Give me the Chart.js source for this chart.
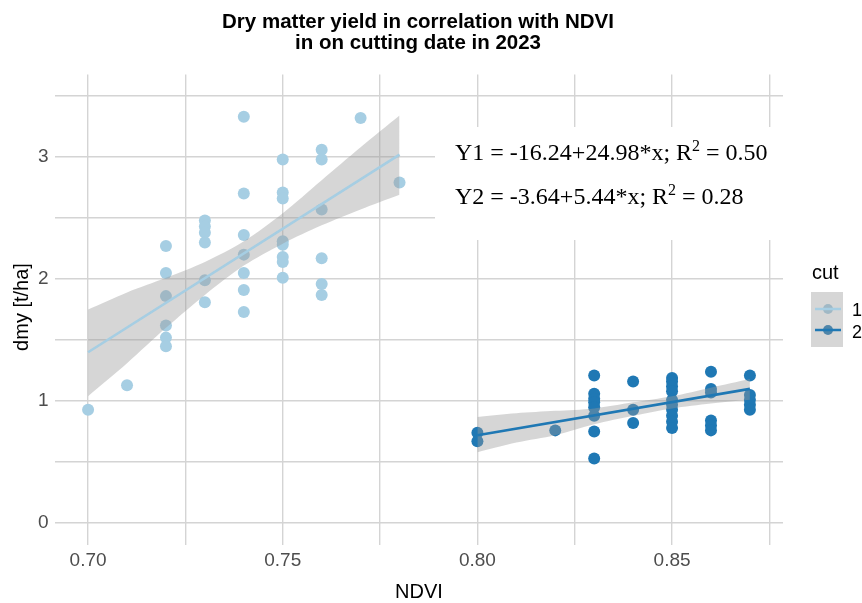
<!DOCTYPE html>
<html>
<head>
<meta charset="utf-8">
<script src="https://cdn.jsdelivr.net/npm/chart.js@4.4.1/dist/chart.umd.min.js"></script>
<style>
  html, body { margin: 0; padding: 0; background: #fff; }
</style>
</head>
<body>
<canvas id="chart" width="862" height="603"></canvas>
<script>
// cut 1 measurements
var ndvi1 = [0.70, 0.71,
  0.72, 0.72, 0.72, 0.72, 0.72, 0.72,
  0.73, 0.73, 0.73, 0.73, 0.73, 0.73,
  0.74, 0.74, 0.74, 0.74, 0.74, 0.74, 0.74,
  0.75, 0.75, 0.75, 0.75, 0.75, 0.75, 0.75, 0.75,
  0.76, 0.76, 0.76, 0.76, 0.76, 0.76,
  0.77, 0.78];
var dmy1 = [0.93, 1.13,
  2.27, 2.05, 1.86, 1.62, 1.52, 1.45,
  2.48, 2.43, 2.38, 2.30, 1.99, 1.81,
  3.33, 2.70, 2.36, 2.20, 2.05, 1.91, 1.73,
  2.98, 2.71, 2.66, 2.31, 2.28, 2.18, 2.14, 2.01,
  3.06, 2.98, 2.57, 2.17, 1.96, 1.87,
  3.32, 2.79];

// cut 2 measurements
var ndvi2 = [0.80, 0.80, 0.82,
  0.83, 0.83, 0.83, 0.83, 0.83, 0.83, 0.83, 0.83,
  0.84, 0.84, 0.84,
  0.85, 0.85, 0.85, 0.85, 0.85, 0.85, 0.85, 0.85, 0.85, 0.85,
  0.86, 0.86, 0.86, 0.86, 0.86, 0.86,
  0.87, 0.87, 0.87, 0.87, 0.87];
var dmy2 = [0.74, 0.67, 0.76,
  1.21, 1.06, 1.02, 0.99, 0.95, 0.88, 0.75, 0.53,
  1.16, 0.93, 0.82,
  1.19, 1.16, 1.12, 1.08, 1.01, 0.97, 0.93, 0.88, 0.83, 0.78,
  1.24, 1.10, 1.07, 0.84, 0.80, 0.76,
  1.21, 1.05, 1.01, 0.97, 0.93];

// fitted lines (end points) and confidence bands
var fit1X = [0.70, 0.78];
var fit1Y = [1.40, 3.02];
var fit2X = [0.80, 0.87];
var fit2Y = [0.72, 1.10];

var band1X  = [0.70, 0.71, 0.72, 0.73, 0.74, 0.75, 0.76, 0.77, 0.78];
var band1Hi = [1.75, 1.89, 2.01, 2.14, 2.31, 2.54, 2.81, 3.08, 3.34];
var band1Lo = [1.04, 1.31, 1.60, 1.87, 2.11, 2.29, 2.44, 2.57, 2.69];
var band2X  = [0.80, 0.81, 0.82, 0.83, 0.84, 0.85, 0.86, 0.87];
var band2Hi = [0.87, 0.90, 0.92, 0.94, 0.99, 1.04, 1.11, 1.18];
var band2Lo = [0.58, 0.66, 0.72, 0.81, 0.88, 0.94, 0.98, 1.01];

var xTicks = [0.70, 0.725, 0.75, 0.775, 0.80, 0.825, 0.85, 0.875];
var xTickLabels = ['0.70', '', '0.75', '', '0.80', '', '0.85', ''];
var yTicks = [0, 0.5, 1, 1.5, 2, 2.5, 3, 3.5];
var yTickLabels = ['0', '', '1', '', '2', '', '3', ''];

var cutNames = ['1', '2'];
var cutColors = ['#a6cee3', '#1f78b4'];
var equations = [
  ['Y1 = -16.24+24.98*x; R', '2', ' = 0.50'],
  ['Y2 = -3.64+5.44*x; R', '2', ' = 0.28']
];

function pts(xs, ys) {
  return xs.map(function (x, i) { return { x: x, y: ys[i] }; });
}

var SANS = '"Liberation Sans", Arial, sans-serif';
var SERIF = '"Liberation Serif", "Times New Roman", serif';
var BAND = 'rgba(153,153,153,0.4)';

var decorations = {
  id: 'decorations',
  beforeDatasetsDraw: function (chart) {
    var ctx = chart.ctx;
    ctx.save();
    // equation box hides the grid behind it
    ctx.fillStyle = '#ffffff';
    ctx.fillRect(435, 127, 352, 113);
    ctx.fillStyle = '#000000';
    ctx.textBaseline = 'alphabetic';
    ctx.textAlign = 'left';
    var baselines = [159.5, 203.5];
    equations.forEach(function (eq, i) {
      var x = 455, y = baselines[i];
      ctx.font = '24px ' + SERIF;
      ctx.fillText(eq[0], x, y);
      x += ctx.measureText(eq[0]).width;
      ctx.font = '16px ' + SERIF;
      ctx.fillText(eq[1], x, y - 9);
      x += ctx.measureText(eq[1]).width;
      ctx.font = '24px ' + SERIF;
      ctx.fillText(eq[2], x, y);
    });
    ctx.restore();
  },
  afterDraw: function (chart) {
    var ctx = chart.ctx;
    ctx.save();
    ctx.fillStyle = '#000000';
    ctx.textAlign = 'center';
    ctx.textBaseline = 'middle';

    // title
    ctx.font = 'bold 20.5px ' + SANS;
    ctx.fillText('Dry matter yield in correlation with NDVI', 418, 22);
    ctx.fillText('in on cutting date in 2023', 418, 43);

    // axis titles
    ctx.font = '20px ' + SANS;
    ctx.fillText('NDVI', 419, 592);
    ctx.save();
    ctx.translate(22, 307);
    ctx.rotate(-Math.PI / 2);
    ctx.fillText('dmy [t/ha]', 0, 0);
    ctx.restore();

    // legend
    ctx.textAlign = 'left';
    ctx.font = '20px ' + SANS;
    ctx.fillText('cut', 812, 273);
    var keyY = [309, 330];
    var labelY = [311, 333];
    cutColors.forEach(function (col, i) {
      ctx.fillStyle = col;
      ctx.beginPath();
      ctx.arc(828, keyY[i], 5, 0, Math.PI * 2);
      ctx.fill();
    });
    ctx.fillStyle = BAND;
    ctx.fillRect(811, 292, 32, 55);
    cutColors.forEach(function (col, i) {
      ctx.strokeStyle = col;
      ctx.lineWidth = 2.5;
      ctx.beginPath();
      ctx.moveTo(815, keyY[i]);
      ctx.lineTo(841, keyY[i]);
      ctx.stroke();
      ctx.fillStyle = '#000000';
      ctx.font = '18px ' + SANS;
      ctx.fillText(cutNames[i], 852, labelY[i]);
    });
    ctx.restore();
  }
};

function bandSet(xs, ys, fill) {
  return {
    data: pts(xs, ys), showLine: true, fill: fill, backgroundColor: BAND,
    borderColor: 'rgba(0,0,0,0)', pointRadius: 0, tension: 0.3, order: 3
  };
}

new Chart('chart', {
  type: 'scatter',
  data: {
    datasets: [
      { label: cutNames[0], data: pts(ndvi1, dmy1), backgroundColor: cutColors[0],
        borderWidth: 0, pointRadius: 6, order: 4 },
      { label: cutNames[1], data: pts(ndvi2, dmy2), backgroundColor: cutColors[1],
        borderWidth: 0, pointRadius: 6, order: 4 },
      bandSet(band1X, band1Hi, '+1'),
      bandSet(band1X, band1Lo, false),
      bandSet(band2X, band2Hi, '+1'),
      bandSet(band2X, band2Lo, false),
      { data: pts(fit1X, fit1Y), showLine: true, borderColor: cutColors[0],
        borderWidth: 2.6, pointRadius: 0, order: 1 },
      { data: pts(fit2X, fit2Y), showLine: true, borderColor: cutColors[1],
        borderWidth: 2.6, pointRadius: 0, order: 1 }
    ]
  },
  options: {
    responsive: false,
    animation: false,
    layout: { padding: { top: 74.6, right: 79, bottom: 0, left: 0 } },
    plugins: {
      legend: { display: false },
      tooltip: { enabled: false }
    },
    scales: {
      x: {
        type: 'linear',
        min: 0.6915,
        max: 0.8785,
        afterBuildTicks: function (s) {
          s.ticks = xTicks.map(function (v) { return { value: v }; });
        },
        afterFit: function (s) { s.height = 58.5; },
        ticks: {
          callback: function (v, i) { return xTickLabels[i]; },
          font: { family: SANS, size: 19 },
          color: '#4d4d4d',
          padding: 5,
          maxRotation: 0,
          autoSkip: false
        },
        grid: { color: '#d4d4d4', lineWidth: 1.4, drawTicks: false },
        border: { display: false }
      },
      y: {
        type: 'linear',
        min: -0.175,
        max: 3.675,
        afterBuildTicks: function (s) {
          s.ticks = yTicks.map(function (v) { return { value: v }; });
        },
        afterFit: function (s) { s.width = 55; },
        ticks: {
          callback: function (v, i) { return yTickLabels[i]; },
          font: { family: SANS, size: 19 },
          color: '#4d4d4d',
          padding: 6.5,
          autoSkip: false
        },
        grid: { color: '#d4d4d4', lineWidth: 1.4, drawTicks: false },
        border: { display: false }
      }
    }
  },
  plugins: [decorations]
});
</script>
</body>
</html>
